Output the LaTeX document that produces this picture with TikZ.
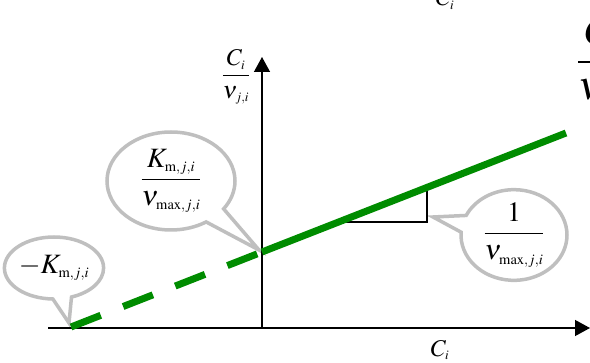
\documentclass[tikz,border=0pt]{standalone}
\usepackage{amsmath}
\usepackage{mathptmx}
\DeclareMathSizes{28}{28}{14.5}{11}
\DeclareMathSizes{24}{24}{13}{10}
\DeclareMathSizes{40}{40}{22}{16}
\usetikzlibrary{arrows.meta,shapes.callouts}
\definecolor{linegreen}{RGB}{0,140,0}
\tikzset{
  axis/.style={line width=1.3pt, -{Triangle[length=15pt,width=16pt]}},
  bubble/.style={ellipse callout, draw=black!25, line width=3.5pt, fill=white,
    inner sep=0pt, callout pointer arc=22},
  labelfont/.style={font=\fontsize{24}{28}\selectfont},
}
\begin{document}
\begin{tikzpicture}[x=1pt, y=-1pt, font=\fontsize{28}{32}\selectfont]
  \useasboundingbox (0,0) rectangle (590,363);
  \clip (0,0) rectangle (590,363);
  % Punkte der Geraden und Spitzen der Sprechblasen
  \coordinate (A) at (71,327);
  \coordinate (B) at (262,252);
  \coordinate (E) at (566,133);
  \coordinate (tipA) at (69,323);
  \coordinate (tipB) at (259,250);
  \coordinate (tipC) at (433,217);
  % Sprechblasen
  \foreach \n/\x/\y/\w/\h/\lab in {A/54/268/90/62/{$-K_{\mathrm{m},j,i}$},
      B/171/181/128/98/{$\dfrac{K_{\mathrm{m},j,i}}{\nu_{\max,j,i}}$},
      C/514/235/106/84/{$\dfrac{1}{\nu_{\max,j,i}}$}} {
    \node[bubble, minimum width=\w pt, minimum height=\h pt,
      callout absolute pointer={(tip\n)}] (call\n) at (\x,\y) {\lab};
  }
  % Achsen
  \coordinate (xs) at (48,328);
  \coordinate (xe) at (590,328);
  \coordinate (O) at (262,328);
  \coordinate (ye) at (262,57);
  \draw[axis] (xs) -- (xe);
  \draw[axis] (O) -- (ye);
  \node[labelfont] (ylab) at (236,77) {$\dfrac{C_i}{\nu_{j,i}}$};
  \node[labelfont] (xlab) at (440,350) {$C_i$};
  % Reste am Rand
  \node[labelfont, anchor=base] (toplab) at (445,6) {$C_i$};
  \node[anchor=west, inner sep=0pt, font=\fontsize{40}{44}\selectfont] (edgelab)
    at (577,64) {$\dfrac{C_i}{\nu_{j,i}}$};
  % Steigungsdreieck
  \coordinate (t1) at (345,222);
  \coordinate (t2) at (427,222);
  \coordinate (t3) at (427,187);
  \draw[line width=1.3pt] (t1) -- (t2) -- (t3);
  % Gerade
  \draw[linegreen, line width=7pt, dash pattern=on 32pt off 24pt] (A) -- (B);
  \draw[linegreen, line width=7pt] (B) -- (E);
\end{tikzpicture}
\end{document}
